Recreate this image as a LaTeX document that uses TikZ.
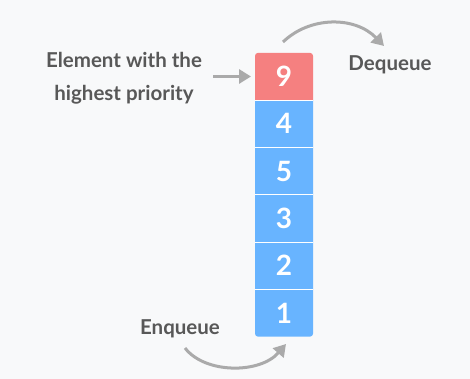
\documentclass[tikz,border=0pt]{standalone}
\usepackage{fontspec}
\setmainfont{Lato}
\usetikzlibrary{arrows.meta,positioning}

\definecolor{bgcol}{RGB}{248,249,250}
\definecolor{textgray}{RGB}{88,88,88}
\definecolor{arrowgray}{RGB}{170,170,170}
\definecolor{topred}{RGB}{245,128,128}
\definecolor{cellblue}{RGB}{104,180,255}

\begin{document}
\begin{tikzpicture}[
  x={(1pt,0pt)},
  y={(0pt,-1pt)},
  cell/.style={
    minimum width=58pt,
    minimum height=47.3pt,
    inner sep=0pt,
    outer sep=0pt,
    text=white,
    font=\bfseries\fontsize{28}{30}\selectfont
  },
  sep/.style={white,line width=1pt},
  flow/.style={
    arrowgray,
    line width=3pt,
    -{Triangle[length=12pt,width=14pt]}
  },
  label/.style={
    text=textgray,
    font=\bfseries\fontsize{20.5}{33}\selectfont,
    align=center,
    inner sep=0pt
  }
]

% Background and margins
\fill[bgcol] (0,0) rectangle (470,379);

% Queue cells, top to bottom
\node[cell] (n9) at (284,76.5) {};
\node[cell,below=0pt of n9] (n4) {};
\node[cell,below=0pt of n4] (n5) {};
\node[cell,below=0pt of n5] (n3) {};
\node[cell,below=0pt of n3] (n2) {};
\node[cell,below=0pt of n2] (n1) {};

% Cell fills
\fill[cellblue] (n4.north west)
  {[rounded corners=3pt] -- (n1.south west) -- (n1.south east)}
  -- (n4.north east) -- cycle;
\fill[topred] (n9.south west)
  {[rounded corners=3pt] -- (n9.north west) -- (n9.north east)}
  -- (n9.south east) -- cycle;

% Separators
\foreach \a in {n9,n4,n5,n3,n2}
  \draw[sep] (\a.south west) -- (\a.south east);

% Numbers
\foreach \n in {9,4,5,3,2,1}
  \node[cell] at (n\n) {\n};

% Labels
\node[label] (elem) at (124,78) {Element with the\\highest priority};
\node[label] (deq) at (390,65) {Dequeue};
\node[label] (enq) at (180,329) {Enqueue};

% Arrow ends
\coordinate (dqstart) at (283,42);
\coordinate (dqend) at (384,46);
\coordinate (eqstart) at (185,348);
\coordinate (eqend) at (286,344);

% Arrows
\draw[flow] ([xshift=11pt]elem.east |- n9.west) -- ([xshift=-4pt]n9.west);
\draw[flow] (dqstart) .. controls (310,16) and (355,16) .. (dqend);
\draw[flow] (eqstart) .. controls (205,374) and (260,374) .. (eqend);

\end{tikzpicture}
\end{document}
